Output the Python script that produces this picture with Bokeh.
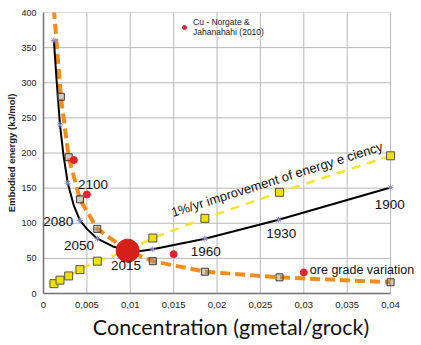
from bokeh.plotting import figure
from bokeh.models import Range1d, FixedTicker, CustomJSTickFormatter, Label, Legend, LegendItem
from bokeh.embed import file_html
from bokeh.resources import INLINE

# ---- data ----
x_ticks = [0, 0.005, 0.01, 0.015, 0.02, 0.025, 0.03, 0.035, 0.04]
y_ticks = [0, 50, 100, 150, 200, 250, 300, 350, 400]

# black model curve (embodied energy vs grade)
curve_x = [0.0012, 0.0015, 0.0019, 0.0023, 0.0028, 0.0035, 0.0042, 0.005, 0.0062, 0.008,
           0.0097, 0.011, 0.0126, 0.0186, 0.0271, 0.04]
curve_y = [360, 305, 240, 197, 157, 125, 104, 92, 78, 67, 61, 60, 63, 78, 105, 151]
# star markers on the black curve
mark_x = [0.0012, 0.0019, 0.0028, 0.0042, 0.0062, 0.0126, 0.0186, 0.0271, 0.04]
mark_y = [360, 240, 157, 104, 78, 63, 78, 105, 151]

# ore grade variation (orange dashed)
ore_x = [0.0012, 0.002, 0.0029, 0.0042, 0.0062, 0.0097, 0.0126, 0.0186, 0.0272, 0.04]
ore_y = [405, 280, 194, 134, 92, 61, 46, 31, 23, 16]
ore_sq_x = [0.002, 0.0029, 0.0042, 0.0062, 0.0126, 0.0186, 0.0272, 0.04]
ore_sq_y = [280, 194, 134, 92, 46, 31, 23, 16]

# 1%/yr improvement of energy efficiency (yellow dashed)
eff_x = [0.0012, 0.0019, 0.0029, 0.0042, 0.0062, 0.0097, 0.0126, 0.0186, 0.0272, 0.04]
eff_y = [14, 19, 25, 34, 46, 61, 79, 107, 144, 196]

# Cu - Norgate & Jahanshahi (2010)
cu_x = [0.0035, 0.005, 0.015, 0.03]
cu_y = [190, 141, 56, 30]

# 2015 point
now_x = [0.0097]
now_y = [61]

# year annotations
year_text = ["2100", "2080", "2050", "2015", "1960", "1930", "1900"]
year_x = [0.0057, 0.0017, 0.0041, 0.0095, 0.0187, 0.0274, 0.0399]
year_y = [155, 103, 68, 40, 60, 86, 127]

# frame extends a little past 0.04 so that labels at the right are not clipped
X_END = 0.04322

p = figure(width=418, height=343, output_backend="svg", toolbar_location=None,
           x_range=Range1d(0, X_END), y_range=Range1d(0, 400),
           min_border_left=43, min_border_right=0, min_border_top=12, min_border_bottom=50)
p.background_fill_color = "white"
p.border_fill_color = "white"
p.outline_line_color = None
p.xgrid.visible = False
p.ygrid.visible = False

p.xaxis.ticker = FixedTicker(ticks=x_ticks)
p.yaxis.ticker = FixedTicker(ticks=y_ticks)
p.xaxis.bounds = (min(x_ticks), max(x_ticks))
p.xaxis.formatter = CustomJSTickFormatter(code="return tick === 0 ? '0' : tick.toString().replace('.', ',');")
for ax in (p.xaxis[0], p.yaxis[0]):
    ax.axis_line_color = "#707070"
    ax.axis_line_width = 1.5
    ax.major_tick_line_color = None
    ax.minor_tick_line_color = None
    ax.major_tick_out = 0
    ax.major_tick_in = 0
    ax.minor_tick_out = 0
    ax.minor_tick_in = 0
    ax.major_label_text_font = "Liberation Sans"
    ax.major_label_text_color = "#222222"
p.xaxis.major_label_text_font_size = "9.5px"
p.yaxis.major_label_text_font_size = "9px"
p.xaxis.major_label_standoff = 8
p.yaxis.major_label_standoff = 7

p.xaxis.axis_label = "Concentration (gmetal/grock)"
p.xaxis.axis_label_text_font = "Lato"
p.xaxis.axis_label_text_font_size = "21.5px"
p.xaxis.axis_label_text_font_style = "normal"
p.xaxis.axis_label_text_color = "#111111"
p.xaxis.axis_label_standoff = 3

p.yaxis.axis_label = "Embodied energy (kJ/mol)"
p.yaxis.axis_label_text_font = "Liberation Sans"
p.yaxis.axis_label_text_font_size = "9.5px"
p.yaxis.axis_label_text_font_style = "bold"
p.yaxis.axis_label_text_color = "#222222"
p.yaxis.axis_label_standoff = 1

# grid lines drawn from the tick arrays
p.segment(x0=x_ticks, y0=[min(y_ticks)] * len(x_ticks), x1=x_ticks, y1=[max(y_ticks)] * len(x_ticks),
          line_color="#b8b8b8", line_width=1, level="underlay")
p.segment(x0=[min(x_ticks)] * len(y_ticks), y0=y_ticks, x1=[max(x_ticks)] * len(y_ticks), y1=y_ticks,
          line_color="#b8b8b8", line_width=1, level="underlay")

# lines
p.line(ore_x, ore_y, line_color="#f28c1a", line_width=4, line_dash="10 5")
p.line(eff_x, eff_y, line_color="#f2e52a", line_width=2.5, line_dash="9 7")
p.line(curve_x, curve_y, line_color="black", line_width=2)

# markers
p.scatter(ore_sq_x, ore_sq_y, marker="square", size=7, fill_color="#9a8a78", fill_alpha=0.45,
          line_color="#3a3a3a", line_width=1)
p.scatter(eff_x, eff_y, marker="square", size=8, fill_color="#f0e000", line_color="#555555", line_width=1)
p.scatter(mark_x, mark_y, marker="asterisk", size=6, line_color="#8a8acc", line_width=1)
cu = p.scatter(cu_x, cu_y, marker="circle", size=7, fill_color="#e8202e", line_color="#e8202e")
p.scatter(now_x, now_y, marker="circle", size=23, fill_color="#d42018", line_color="#d42018")

legend = Legend(items=[LegendItem(label="Cu - Norgate &\nJahanahahi (2010)", renderers=[cu])],
                location=(136, 255), border_line_alpha=0, background_fill_alpha=0,
                padding=0, margin=0, glyph_width=10, glyph_height=22, label_standoff=4,
                label_text_font="Liberation Sans", label_text_font_size="8.5px",
                label_text_color="#222222")
p.add_layout(legend)

for t, xx, yy in zip(year_text, year_x, year_y):
    p.add_layout(Label(x=xx, y=yy, text=t, text_align="center", text_baseline="middle",
                       text_font="Liberation Sans", text_font_size="13.5px", text_color="#111111"))

p.add_layout(Label(x=0.0307, y=34, text="ore grade variation", text_align="left", text_baseline="middle",
                   text_font="Liberation Sans", text_font_size="12.5px", text_color="#111111"))
p.add_layout(Label(x=0.0273, y=164, text="1%/yr improvement of energy e   ciency", angle=0.307,
                   text_align="center", text_baseline="middle",
                   text_font="Liberation Sans", text_font_size="13px", text_color="#111111"))

open("out.html", "w").write(file_html(p, INLINE))
